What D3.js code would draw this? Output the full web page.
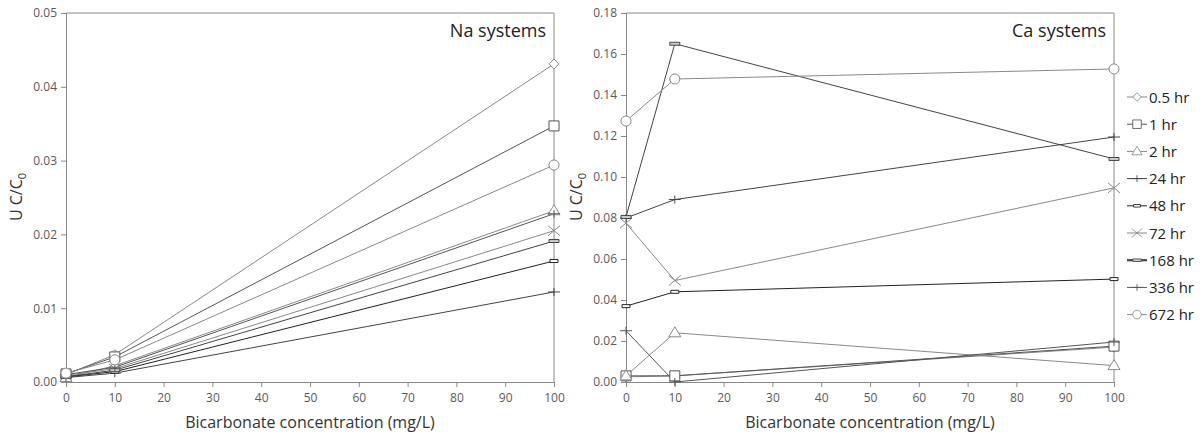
<!DOCTYPE html>
<html>
<head>
<meta charset="utf-8">
<script src="https://cdn.jsdelivr.net/npm/d3@7"></script>
<style>
  body { margin: 0; background: #fff; }
  text { font-family: "Open Sans", "Liberation Sans", sans-serif; }
</style>
</head>
<body>
<div class="chart"></div>
<script>
// bicarbonate concentration on x, U C/C0 on y
var xValues = [0, 10, 100];
var seriesNames = ['0.5 hr', '1 hr', '2 hr', '24 hr', '48 hr', '72 hr', '168 hr', '336 hr', '672 hr'];
var naValues = [
  [0.0010, 0.0037, 0.0431],
  [0.0011, 0.0034, 0.0347],
  [0.0006, 0.0022, 0.0232],
  [0.0006, 0.0012, 0.0122],
  [0.0007, 0.0014, 0.0164],
  [0.0009, 0.0018, 0.0205],
  [0.0007, 0.0016, 0.0191],
  [0.0010, 0.0020, 0.0228],
  [0.0012, 0.0030, 0.0294]
];
var caValues = [
  [0.0025, 0.0030, 0.0170],
  [0.0030, 0.0030, 0.0175],
  [0.0030, 0.0240, 0.0080],
  [0.0800, 0.0890, 0.1195],
  [0.0370, 0.0440, 0.0502],
  [0.0775, 0.0495, 0.0947],
  [0.0805, 0.1650, 0.1088],
  [0.0250, 0.0000, 0.0195],
  [0.1273, 0.1478, 0.1527]
];
var xTicks = [0, 10, 20, 30, 40, 50, 60, 70, 80, 90, 100];
var naTicks = [0, 0.01, 0.02, 0.03, 0.04, 0.05];
var caTicks = [0, 0.02, 0.04, 0.06, 0.08, 0.10, 0.12, 0.14, 0.16, 0.18];

// per series look
var markers = ['diamond', 'square', 'triangle', 'plus', 'dash', 'x', 'bar', 'plus', 'circle'];
var colors = ['#888', '#555', '#888', '#444', '#222', '#888', '#444', '#555', '#888'];
var legendWidths = [1, 1, 1, 1, 1, 1, 2.2, 1, 1];

var svg = d3.select('.chart').append('svg').attr('width', 1203).attr('height', 437);

function marker(g, type, color) {
  var s = g.append('path').attr('fill', 'white').attr('stroke', color).attr('stroke-width', 1);
  if (type == 'diamond') s.attr('d', 'M0,-5L5,0L0,5L-5,0Z');
  else if (type == 'square') s.attr('d', 'M-5,-5H5V5H-5Z');
  else if (type == 'triangle') s.attr('d', 'M0,-6L6,4H-6Z');
  else if (type == 'circle') s.attr('d', d3.symbol(d3.symbolCircle, 80)());
  else if (type == 'plus') s.attr('d', 'M-6,0H6M0,-4V4').attr('fill', 'none');
  else if (type == 'x') s.attr('d', 'M-6,-5L6,5M-6,5L6,-5').attr('fill', 'none');
  else if (type == 'dash') s.attr('d', 'M-4,-1.5H4V1.5H-4Z');
  else if (type == 'bar') s.attr('d', 'M-5,-1.5H5V1.5H-5Z').attr('fill', '#ccc');
}

function panel(left, right, values, yMax, ticks, title) {
  var top = 13, bottom = 382;
  var x = d3.scaleLinear().domain([0, 100]).range([left, right]);
  var y = d3.scaleLinear().domain([0, yMax]).range([bottom, top]);
  var g = svg.append('g');

  // frame
  g.append('path').attr('d', 'M' + left + ',' + top + 'H' + right + 'V' + bottom)
    .attr('fill', 'none').attr('stroke', '#888').attr('stroke-width', 1);

  var ax = g.append('g').attr('transform', 'translate(0,' + bottom + ')')
    .call(d3.axisBottom(x).tickValues(xTicks).tickSize(5).tickPadding(6));
  var ay = g.append('g').attr('transform', 'translate(' + left + ',0)')
    .call(d3.axisLeft(y).tickValues(ticks).tickSize(5).tickPadding(4).tickFormat(d3.format('.2f')));
  [ax, ay].forEach(function(a) {
    a.selectAll('path, line').attr('stroke', '#888');
    a.selectAll('text').attr('fill', '#595959').style('font-size', '12px');
  });

  var line = d3.line().x(function(d, i) { return x(xValues[i]); }).y(function(d) { return y(d); });
  values.forEach(function(v, s) {
    g.append('path').attr('d', line(v)).attr('fill', 'none')
      .attr('stroke', colors[s]).attr('stroke-width', 1);
  });
  values.forEach(function(v, s) {
    v.forEach(function(d, i) {
      var m = g.append('g').attr('transform', 'translate(' + x(xValues[i]) + ',' + y(d) + ')');
      marker(m, markers[s], colors[s]);
    });
  });

  g.append('text').attr('x', right - 8).attr('y', 37).attr('text-anchor', 'end')
    .style('font-size', '18px').attr('fill', '#222').text(title);

  g.append('text').attr('x', (left + right) / 2).attr('y', 428).attr('text-anchor', 'middle')
    .style('font-size', '16px').attr('fill', '#333').text('Bicarbonate concentration (mg/L)');

  var yt = g.append('text').attr('transform', 'translate(' + (left - 44) + ',197) rotate(-90)')
    .attr('text-anchor', 'middle').style('font-size', '16px').attr('fill', '#333');
  yt.append('tspan').text('U C/C');
  yt.append('tspan').attr('dy', 4).style('font-size', '11px').text('0');
}

panel(66, 554, naValues, 0.05, naTicks, 'Na systems');
panel(626, 1114, caValues, 0.18, caTicks, 'Ca systems');

// legend
var legend = svg.append('g');
seriesNames.forEach(function(name, s) {
  var ly = 97 + s * 27.2;
  legend.append('line').attr('x1', 1127).attr('x2', 1147).attr('y1', ly).attr('y2', ly)
    .attr('stroke', colors[s]).attr('stroke-width', legendWidths[s]);
  var m = legend.append('g').attr('transform', 'translate(1137,' + ly + ') scale(0.85)');
  marker(m, markers[s], colors[s]);
  legend.append('text').attr('x', 1149).attr('y', ly + 5.5).style('font-size', '15px')
    .attr('fill', '#222').text(name);
});
</script>
</body>
</html>
